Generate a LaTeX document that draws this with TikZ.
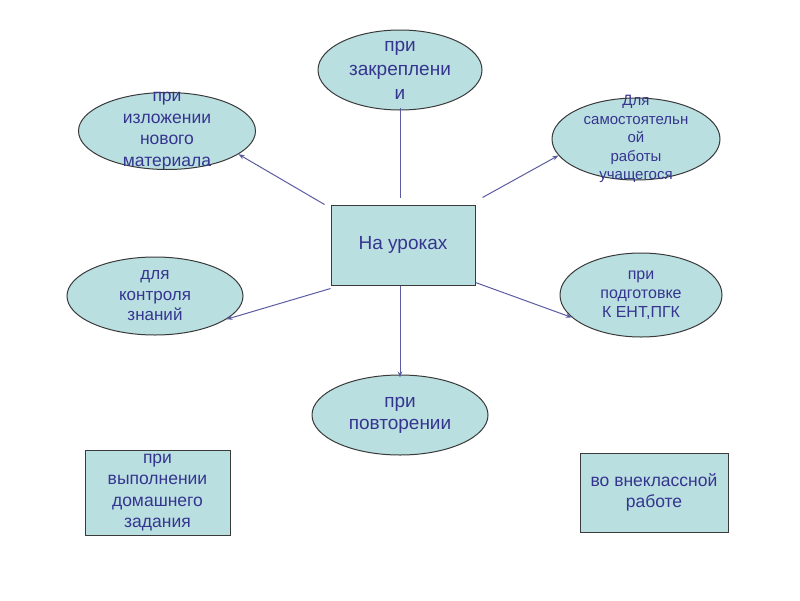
\documentclass[tikz,border=0pt]{standalone}
\usepackage{fontspec}
\setmainfont{Liberation Sans}
\usetikzlibrary{arrows.meta,shapes.geometric}

\definecolor{boxfill}{HTML}{BADFE1}
\definecolor{boxline}{HTML}{3A3A3A}
\definecolor{txtblue}{HTML}{35358F}
\definecolor{arrline}{HTML}{5C5CA3}

\tikzset{
  oval/.style={ellipse, draw=boxline, fill=boxfill, line width=1pt, inner sep=0pt},
  tbox/.style={rectangle, draw=boxline, fill=boxfill, line width=1pt, inner sep=0pt},
  txt/.style={text=txtblue, align=center, inner sep=0pt,
    font=\fontsize{17.5}{21.5}\selectfont},
  big txt/.style={txt, font=\fontsize{19}{22}\selectfont},
  small txt/.style={txt, font=\fontsize{15}{18.5}\selectfont},
  arr/.style={draw=arrline, line width=1pt, -{Stealth[length=6pt,width=4.5pt]}},
  plain/.style={draw=arrline, line width=1pt}
}

\begin{document}
\begin{tikzpicture}[x=1pt,y=-1pt]

\useasboundingbox[fill=white] (0,0) rectangle (800,600);

% centre box
\node[tbox, minimum width=144pt, minimum height=80pt] (uroki) at (403,245) {};
\node[big txt] (uroki-t) at (uroki) {На уроках};

% ovals round the centre
\node[oval, minimum width=164pt, minimum height=80pt] (zakr) at (400,70) {};
\node[big txt, font=\fontsize{19}{24}\selectfont] (zakr-t) at (zakr) {при\\закреплени\\и};

\node[oval, minimum width=177pt, minimum height=77pt] (izl) at (167,131) {};
\node[txt] (izl-t) at (izl) {при\\изложении\\нового\\материала};

\node[oval, minimum width=168pt, minimum height=82pt] (samo) at (636,139) {};
\node[small txt] (samo-t) at (samo) {Для\\самостоятельн\\ой\\работы\\учащегося};

\node[oval, minimum width=176pt, minimum height=78pt] (kontr) at (155,296) {};
\node[txt, font=\fontsize{17}{20.5}\selectfont] (kontr-t) at (kontr) {для\\контроля\\знаний};

\node[oval, minimum width=162pt, minimum height=84pt] (podg) at (641,295) {};
\node[txt, font=\fontsize{16}{19}\selectfont] (podg-t) at (podg) {при\\подготовке\\К ЕНТ,ПГК};

\node[oval, minimum width=176pt, minimum height=80pt] (povt) at (400,415) {};
\node[big txt] (povt-t) at (povt) {при\\повторении};

% boxes at the bottom
\node[tbox, minimum width=145pt, minimum height=85pt] (dom) at (157.5,492.5) {};
\node[txt] (dom-t) at (dom) {при\\выполнении\\домашнего\\задания};

\node[tbox, minimum width=148pt, minimum height=79pt] (vnekl) at (654,492.5) {};
\node[txt] (vnekl-t) at (vnekl) {во внеклассной\\работе};

% connectors
\draw[plain] ([xshift=-3pt,yshift=7pt]uroki.north) -- ([yshift=3pt]zakr.south);
\draw[arr] ([xshift=-6pt]uroki.north west) -- (izl.-18);
\draw[arr] ([xshift=7pt,yshift=7pt]uroki.north east) -- (samo.192);
\draw[arr] ([yshift=-3pt]uroki.south west) -- (kontr.-18);
\draw[arr] ([yshift=3pt]uroki.south east) -- (podg.198);
\draw[arr] ([xshift=-3pt]uroki.south) -- ([yshift=-3pt]povt.north);

\end{tikzpicture}
\end{document}
